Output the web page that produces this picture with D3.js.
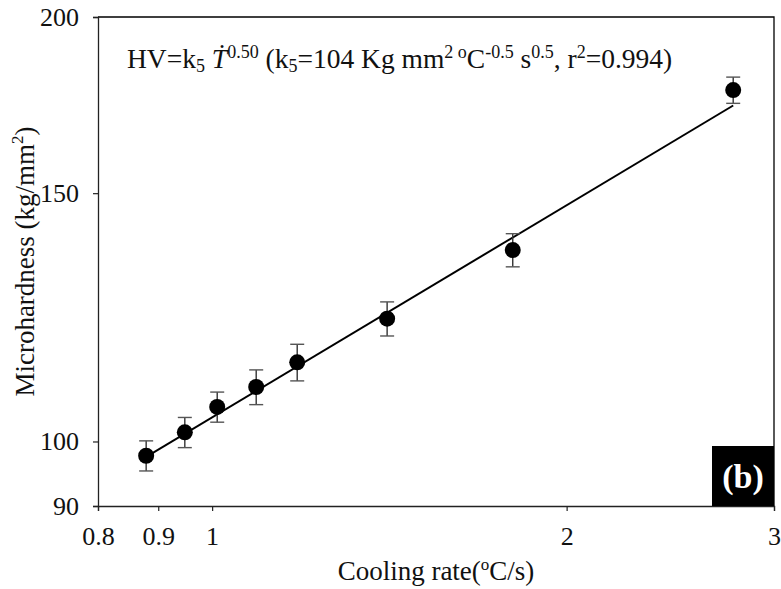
<!DOCTYPE html>
<html>
<head>
<meta charset="utf-8">
<script src="https://cdn.jsdelivr.net/npm/d3@7"></script>
<style>
  body { margin: 0; background: #fff; }
  svg text { font-family: "Liberation Serif", "Times New Roman", serif; }
</style>
</head>
<body>
<div id="chart"></div>
<script>
// data
const coolingRate = [0.879, 0.948, 1.010, 1.090, 1.181, 1.408, 1.80, 2.77];
const hardness = [97.7, 101.5, 105.8, 109.3, 113.8, 122.2, 136.7, 177.5];
const hardnessErr = [2.4, 2.5, 2.6, 3.1, 3.4, 3.4, 3.7, 3.8];
const xTicks = [0.8, 0.9, 1, 2, 3];
const yTicks = [90, 100, 150, 200];
// fit HV = k5 * T^n
const fitK = 104, fitN = 0.50;

const W = 781, H = 589;
const margin = {top: 17, right: 7, bottom: 83, left: 98};
const width = W - margin.left - margin.right,
    height = H - margin.top - margin.bottom;

const svg = d3.select("#chart")
    .append("svg")
    .attr("width", W)
    .attr("height", H);

const g = svg.append("g")
    .attr("transform", `translate(${margin.left},${margin.top})`);

const x = d3.scaleLog().domain([0.8, 3]).range([0, width]);
const y = d3.scaleLog().domain([90, 200]).range([height, 0]);

// frame (top + right)
g.append("path")
    .attr("d", `M0,0H${width}V${height}`)
    .attr("fill", "none")
    .attr("stroke", "#000")
    .attr("stroke-width", 1.3);

// axes
const xAxis = g.append("g")
    .attr("transform", `translate(0,${height})`)
    .call(d3.axisBottom(x).tickValues(xTicks).tickFormat(d3.format("")).tickSizeOuter(0).tickSize(5).tickPadding(16));
const yAxis = g.append("g")
    .call(d3.axisLeft(y).tickValues(yTicks).tickFormat(d3.format("")).tickSizeOuter(0).tickSize(5).tickPadding(14));
[xAxis, yAxis].forEach(a => {
    a.select(".domain").attr("stroke", "#222").attr("stroke-width", 1.3);
    a.selectAll(".tick line").attr("stroke", "#222").attr("stroke-width", 1.2);
    a.selectAll(".tick text").style("font-size", "26px").style("fill", "#111");
});

// fit line
const xr = d3.extent(coolingRate);
g.append("path")
    .datum(xr)
    .attr("d", d3.line().x(d => x(d)).y(d => y(fitK * Math.pow(d, fitN))))
    .attr("stroke", "#000")
    .attr("stroke-width", 2)
    .attr("fill", "none");

const pts = coolingRate.map((c, i) => ({c, h: hardness[i], e: hardnessErr[i]}));

// error bars
const eb = g.selectAll(".eb").data(pts).join("g").attr("class", "eb");
eb.append("line")
    .attr("x1", d => x(d.c)).attr("x2", d => x(d.c))
    .attr("y1", d => y(d.h + d.e)).attr("y2", d => y(d.h - d.e))
    .attr("stroke", "#333").attr("stroke-width", 1.4);
eb.selectAll(".cap").data(d => [[d.c, d.h + d.e], [d.c, d.h - d.e]]).join("line")
    .attr("x1", d => x(d[0]) - 7).attr("x2", d => x(d[0]) + 7)
    .attr("y1", d => y(d[1])).attr("y2", d => y(d[1]))
    .attr("stroke", "#555").attr("stroke-width", 1.4);

// markers
g.selectAll(".pt").data(pts).join("circle")
    .attr("cx", d => x(d.c))
    .attr("cy", d => y(d.h))
    .attr("r", 8)
    .attr("fill", "#000");

// equation
const eq = g.append("text")
    .attr("x", 29).attr("y", 51)
    .style("font-size", "27.5px")
    .style("fill", "#111");
const parts = [
    ["HV=k", 0], ["5", -1], [" ", 0], ["Ṫ", 0, true], ["0.50", 1], [" (k", 0], ["5", -1],
    ["=104 Kg mm", 0], ["2 o", 1], ["C", 0], ["-0.5", 1], [" s", 0], ["0.5", 1],
    [", r", 0], ["2", 1], ["=0.994)", 0]
];
let prev = 0;
parts.forEach(([t, s, it]) => {
    const dy = s === 1 ? -10 : s === -1 ? 4 : 0;
    eq.append("tspan")
        .attr("dy", dy - prev)
        .style("font-size", s ? "18px" : null)
        .style("font-style", it ? "italic" : null)
        .text(t);
    prev = dy;
});

// (b) label
g.append("rect")
    .attr("x", width - 62).attr("y", height - 60)
    .attr("width", 62).attr("height", 60)
    .attr("fill", "#000");
g.append("text")
    .attr("x", width - 31).attr("y", height - 18)
    .attr("text-anchor", "middle")
    .style("font-size", "34px").style("font-weight", "bold")
    .style("fill", "#fff")
    .text("(b)");

// axis titles
const xt = svg.append("text")
    .attr("x", margin.left + x(Math.sqrt(0.8 * 3)))
    .attr("y", 580)
    .attr("text-anchor", "middle")
    .style("font-size", "27px")
    .style("fill", "#111");
xt.append("tspan").text("Cooling rate(");
xt.append("tspan").attr("dy", -10).style("font-size", "17px").text("o");
xt.append("tspan").attr("dy", 10).text("C/s)");

const yt = svg.append("text")
    .attr("transform", `translate(34,${margin.top + height / 2}) rotate(-90)`)
    .attr("text-anchor", "middle")
    .style("font-size", "27px")
    .style("fill", "#111");
yt.append("tspan").text("Microhardness (kg/mm");
yt.append("tspan").attr("dy", -11).style("font-size", "17px").text("2");
yt.append("tspan").attr("dy", 11).text(")");
</script>
</body>
</html>
